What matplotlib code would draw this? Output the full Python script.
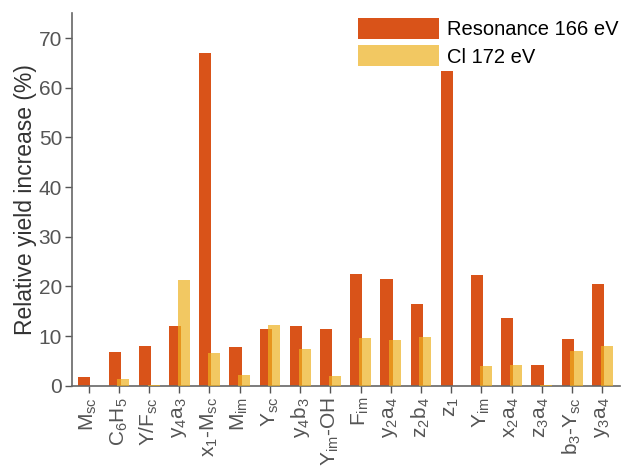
import numpy as np
import matplotlib
matplotlib.use("Agg")
import matplotlib.pyplot as plt

plt.rcParams['font.family'] = ['Liberation Sans', 'DejaVu Sans']
plt.rcParams['mathtext.fontset'] = 'custom'
plt.rcParams['mathtext.rm'] = 'Liberation Sans'
plt.rcParams['mathtext.it'] = 'Liberation Sans'
plt.rcParams['mathtext.default'] = 'regular'

# fragment labels
labels = [r"M$_{sc}$", r"C$_6$H$_5$", r"Y/F$_{sc}$", r"y$_4$a$_3$", r"x$_1$-M$_{sc}$",
          r"M$_{im}$", r"Y$_{sc}$", r"y$_4$b$_3$", r"Y$_{im}$-OH", r"F$_{im}$",
          r"y$_2$a$_4$", r"z$_2$b$_4$", r"z$_1$", r"Y$_{im}$", r"x$_2$a$_4$",
          r"z$_3$a$_4$", r"b$_3$-Y$_{sc}$", r"y$_3$a$_4$"]

resonance = [1.7, 6.8, 8.1, 12.0, 67.0, 7.8, 11.5, 12.0, 11.4, 22.5,
             21.5, 16.5, 63.4, 22.4, 13.7, 4.2, 9.5, 20.4]
cl = [0.0, 1.4, 0.2, 21.3, 6.6, 2.1, 12.2, 7.4, 1.9, 9.6,
      9.2, 9.9, 0.0, 3.9, 4.2, 0.2, 7.0, 8.1]

x = np.arange(len(labels))
w = 0.4

fig = plt.figure(figsize=(6.24, 4.70), dpi=100)
ax = fig.add_axes([0.115, 0.179, 0.879, 0.793])

ax.bar(x - 0.14, resonance, w, color='#D95319', label='Resonance 166 eV', zorder=2)
ax.bar(x + 0.15, cl, w, color='#EDB120', alpha=0.7, label='Cl 172 eV', zorder=3)

ax.set_xlim(-0.56, 17.6)
ax.set_ylim(0, 75)
ax.set_yticks(range(0, 71, 10))
ax.set_xticks(x)
ax.set_xticklabels(labels, rotation=90, fontsize=15, color='#222222')
ax.tick_params(axis='y', labelsize=15, labelcolor='#333333', pad=2)
ax.tick_params(axis='x', pad=3)
ax.tick_params(colors='#555555', direction='out', length=5, width=1)
ax.set_ylabel('Relative yield increase (%)', fontsize=16.5, color='#333333', labelpad=1)

for s in ['top', 'right']:
    ax.spines[s].set_visible(False)
for s in ['left', 'bottom']:
    ax.spines[s].set_color('#666666')
    ax.spines[s].set_linewidth(1.2)

ax.legend(loc='upper right', bbox_to_anchor=(1.03, 1.035), frameon=False,
          fontsize=14.5, handlelength=4.0, handleheight=1.2, handletextpad=0.4,
          labelspacing=0.3)

fig.savefig('out.png', dpi=100)
